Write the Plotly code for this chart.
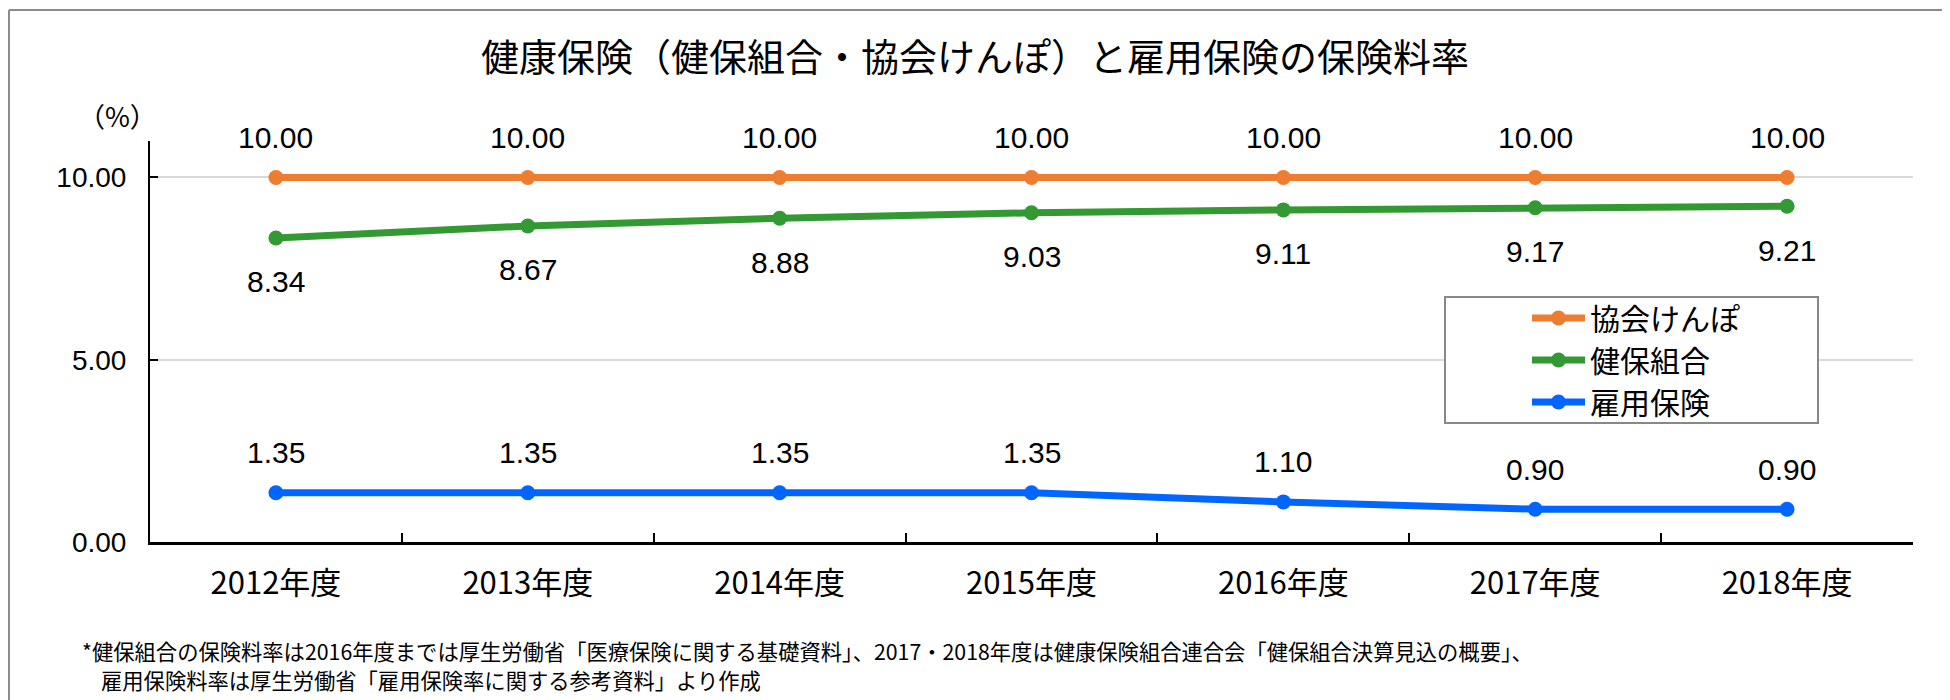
import plotly.graph_objects as go

# ---- data ----
years = ["2012年度", "2013年度", "2014年度", "2015年度", "2016年度", "2017年度", "2018年度"]
kyokai = [10.00, 10.00, 10.00, 10.00, 10.00, 10.00, 10.00]
kenpo = [8.34, 8.67, 8.88, 9.03, 9.11, 9.17, 9.21]
koyo = [1.35, 1.35, 1.35, 1.35, 1.10, 0.90, 0.90]

series_names = ["協会けんぽ", "健保組合", "雇用保険"]
series_colors = ["#ED7D31", "#339933", "#0066FF"]
label_shift = [40, -44, 40]

title_text = "健康保険（健保組合・協会けんぽ）と雇用保険の保険料率"
note1 = "*健保組合の保険料率は2016年度までは厚生労働省「医療保険に関する基礎資料」、2017・2018年度は健康保険組合連合会「健保組合決算見込の概要」、"
note2 = "雇用保険料率は厚生労働省「雇用保険率に関する参考資料」より作成"

JP = "Noto Sans CJK JP"
NUM = "Liberation Sans, Arial, Noto Sans CJK JP"

# page body has an 8px default margin: compensate so the picture lands where wanted
OFF = 8
W, H = 1950, 700
PLOT_L, PLOT_R, PLOT_T, PLOT_B = 150, 1913, 141, 542  # target page pixels
L = PLOT_L - OFF
R = W - (PLOT_R - OFF)
T = PLOT_T - OFF
B = H - (PLOT_B - OFF)
PW, PH = W - L - R, H - T - B


def px(x):
    return (x - OFF - L) / PW


def py(y):
    return (H - B - (y - OFF)) / PH


fig = go.Figure()
annotations = []
for name, vals, color, shift in zip(series_names, [kyokai, kenpo, koyo], series_colors, label_shift):
    fig.add_trace(go.Scatter(
        x=years, y=vals, name=name, mode="lines+markers",
        line=dict(color=color, width=7),
        marker=dict(color=color, size=15),
    ))
    for xv, yv in zip(years, vals):
        annotations.append(dict(
            x=xv, y=yv, xref="x", yref="y", text=f"{yv:.2f}", showarrow=False,
            yshift=shift, font=dict(family=NUM, size=30, color="#000000"),
            xanchor="center", yanchor="middle",
        ))

annotations += [
    dict(x=px(117), y=py(115), xref="paper", yref="paper", text="（%）", showarrow=False,
         font=dict(family=JP, size=27, color="#000000"), xanchor="center", yanchor="middle"),
    dict(x=px(80), y=py(650), xref="paper", yref="paper", text=note1, showarrow=False,
         font=dict(family=JP, size=21.3, color="#000000"), xanchor="left", yanchor="middle"),
    dict(x=px(99), y=py(679), xref="paper", yref="paper", text=note2, showarrow=False,
         font=dict(family=JP, size=21.3, color="#000000"), xanchor="left", yanchor="middle"),
]

shapes = [
    # legend box
    dict(type="rect", xref="paper", yref="paper", x0=px(1445), x1=px(1818), y0=py(423), y1=py(297),
         line=dict(color="#888888", width=2), fillcolor="white", layer="above"),
    # outer frame
    dict(type="line", xref="paper", yref="paper", x0=px(9), x1=px(1947), y0=py(10), y1=py(10),
         line=dict(color="#8c8c8c", width=2)),
    dict(type="line", xref="paper", yref="paper", x0=px(9), x1=px(9), y0=py(10), y1=py(710),
         line=dict(color="#8c8c8c", width=2)),
    dict(type="line", xref="paper", yref="paper", x0=px(1947), x1=px(1947), y0=py(8), y1=py(710),
         line=dict(color="#8c8c8c", width=2)),
]

fig.update_layout(
    width=W, height=H,
    margin=dict(l=L, r=R, t=T, b=B, autoexpand=False),
    paper_bgcolor="white", plot_bgcolor="white",
    title=dict(text=title_text, x=(975 - OFF) / W, xref="container", xanchor="center",
               y=1 - (58 - OFF) / H, yref="container", yanchor="middle",
               font=dict(family=JP, size=38, color="#000000")),
    showlegend=True,
    legend=dict(x=px(1527), y=py(292), xanchor="left", yanchor="top",
                bgcolor="rgba(0,0,0,0)", borderwidth=0,
                font=dict(family=JP, size=30, color="#000000"),
                itemwidth=53, tracegroupgap=0),
    xaxis=dict(type="category", range=[-0.5, 6.5], showgrid=False,
               showline=True, linecolor="#000000", linewidth=3,
               ticks="inside", tickson="boundaries", ticklen=9, tickwidth=2, tickcolor="#000000",
               tickfont=dict(family=JP, size=31, color="#000000"), ticklabelstandoff=12,
               fixedrange=True),
    yaxis=dict(range=[0, 11], dtick=5, tick0=0, tickformat=".2f",
               showgrid=True, gridcolor="#d9d9d9", gridwidth=2, zeroline=False,
               showline=True, linecolor="#000000", linewidth=2,
               ticks="inside", ticklen=8, tickwidth=2, tickcolor="#000000",
               tickfont=dict(family=NUM, size=28, color="#000000"), ticklabelstandoff=16,
               fixedrange=True),
    annotations=annotations,
    shapes=shapes,
)

fig.write_html("out.html")
